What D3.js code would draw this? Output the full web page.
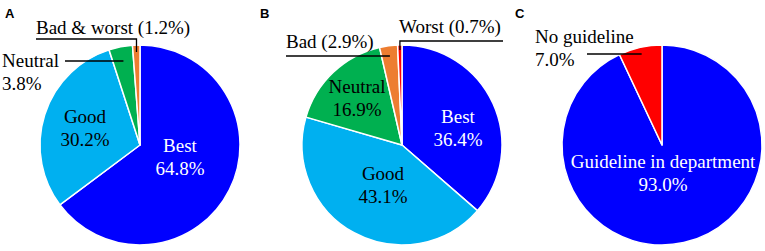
<!DOCTYPE html>
<html>
<head>
<meta charset="utf-8">
<script src="https://cdn.jsdelivr.net/npm/d3@7"></script>
<style>
  body { margin: 0; background: #fff; }
  svg { display: block; }
  .serif { font-family: "Liberation Serif", "Times New Roman", Times, serif; font-size: 19px; }
  .letter { font-family: "Liberation Sans", Arial, sans-serif; font-weight: bold; font-size: 13px; }
</style>
</head>
<body>
<div id="chart"></div>
<script>
// Panel A
const categoriesA = ["Best", "Good", "Neutral", "Bad & worst"];
const valuesA = [64.8, 30.2, 3.8, 1.2];
// Panel B
const categoriesB = ["Best", "Good", "Neutral", "Bad", "Worst"];
const valuesB = [36.4, 43.1, 16.9, 2.9, 0.7];
// Panel C
const categoriesC = ["Guideline in department", "No guideline"];
const valuesC = [93.0, 7.0];

const colorOf = {
    "Best": "#0000ff",
    "Good": "#00b0f0",
    "Neutral": "#00b050",
    "Bad": "#ed7d31",
    "Bad & worst": "#ed7d31",
    "Worst": "#ff0000",
    "Guideline in department": "#0000ff",
    "No guideline": "#ff0000"
};

const width = 765, height = 251, radius = 100;
const fmt = v => v.toFixed(1) + "%";

// label layout, relative to pie centre: inside = centred two-line label,
// outside = left aligned label with a leader line into the slice
const panels = [
    {
        letter: "A", cx: 140, cy: 145, cats: categoriesA, vals: valuesA,
        labels: [
            { type: "in", x: 40, y: 7, fill: "#fff" },
            { type: "in", x: -55, y: -22, fill: "#000" },
            { type: "out2", x: -138, y: -78, leader: { x0: -75, y: -84 } },
            { type: "out1", x: -104, y: -111, leader: { x0: -104, y: -106, elbow: -93 } }
        ]
    },
    {
        letter: "B", cx: 402, cy: 145, cats: categoriesB, vals: valuesB,
        labels: [
            { type: "in", x: 56, y: -22, fill: "#fff" },
            { type: "in", x: -19, y: 35, fill: "#000" },
            { type: "in", x: -45, y: -52, fill: "#000" },
            { type: "out1", x: -116, y: -97, leader: { x0: -116, y: -89 } },
            { type: "out1", x: -3, y: -112, leader: { x0: 101, y: -104, elbow: -95 } }
        ]
    },
    {
        letter: "C", cx: 662, cy: 145, cats: categoriesC, vals: valuesC,
        labels: [
            { type: "in", x: 1, y: 23, fill: "#fff" },
            { type: "out2", x: -127, y: -102, leader: { x0: -75, y: -91 } }
        ]
    }
];

const svg = d3.select("#chart")
    .append("svg")
    .attr("width", width)
    .attr("height", height);

const pie = d3.pie().sort(null).value(d => d.value);
const arc = d3.arc().innerRadius(0).outerRadius(radius);
const lineH = 23;

panels.forEach((p, pi) => {
    // Panel letter
    svg.append("text")
        .attr("class", "letter")
        .attr("x", 5 + pi * 255)
        .attr("y", 18)
        .text(p.letter);

    const g = svg.append("g")
        .attr("transform", `translate(${p.cx}, ${p.cy})`);

    const data = p.cats.map((c, i) => ({ cat: c, value: p.vals[i] }));
    const arcs = pie(data);

    // Slices
    g.selectAll("path")
        .data(arcs)
        .join("path")
        .attr("d", arc)
        .attr("fill", d => colorOf[d.data.cat])
        .attr("stroke", "#fff")
        .attr("stroke-width", 1.5)
        .attr("stroke-linejoin", "round");

    // Labels
    arcs.forEach((a, i) => {
        const lab = p.labels[i];
        const mid = (a.startAngle + a.endAngle) / 2;
        const text = g.append("text").attr("class", "serif");

        if (lab.type === "in") {
            text.attr("text-anchor", "middle").attr("fill", lab.fill);
            text.append("tspan").attr("x", lab.x).attr("y", lab.y).text(a.data.cat);
            text.append("tspan").attr("x", lab.x).attr("y", lab.y + lineH).text(fmt(a.data.value));
        } else {
            text.attr("fill", "#000");
            if (lab.type === "out2") {
                text.append("tspan").attr("x", lab.x).attr("y", lab.y).text(a.data.cat);
                text.append("tspan").attr("x", lab.x).attr("y", lab.y + lineH).text(fmt(a.data.value));
            } else {
                text.append("tspan").attr("x", lab.x).attr("y", lab.y)
                    .text(`${a.data.cat} (${fmt(a.data.value)})`);
            }

            // Leader line ending on the slice's mid angle
            const L = lab.leader;
            let pts;
            if (L.elbow !== undefined) {
                const xe = -L.elbow * Math.tan(mid);
                pts = [[L.x0, L.y], [xe, L.y], [xe, L.elbow]];
            } else {
                const xe = -L.y * Math.tan(mid);
                pts = [[L.x0, L.y], [xe, L.y]];
            }
            g.append("path")
                .attr("d", d3.line()(pts))
                .attr("fill", "none")
                .attr("stroke", "#000")
                .attr("stroke-width", 1.3);
        }
    });
});
</script>
</body>
</html>
